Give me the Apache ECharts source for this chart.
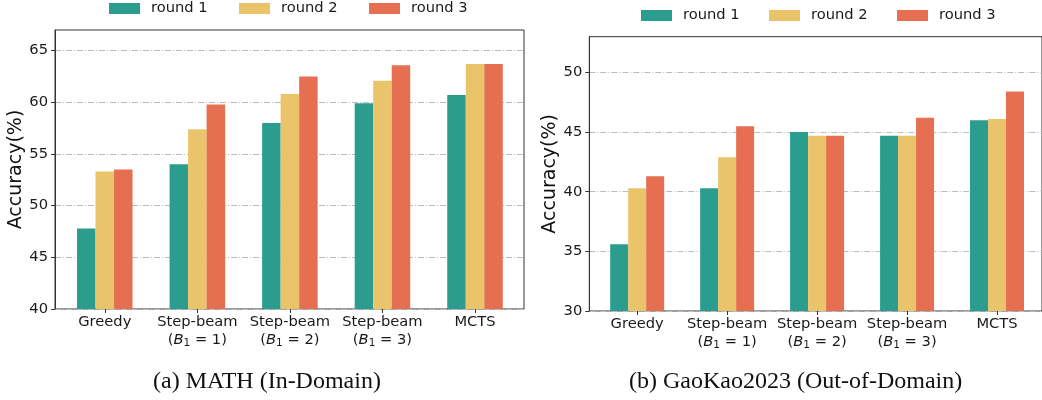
<!DOCTYPE html>
<html>
<head>
<meta charset="utf-8">
<script src="https://cdn.jsdelivr.net/npm/echarts@6/dist/echarts.min.js"></script>
<style>
  html, body { margin: 0; padding: 0; background: #fff; }
</style>
</head>
<body>
<div id="main" style="width: 1042px; height: 400px;"></div>
<script>
// categories (x axis)
var categories = ['Greedy', 'Step-beam (B1 = 1)', 'Step-beam (B1 = 2)', 'Step-beam (B1 = 3)', 'MCTS'];
var roundNames = ['round 1', 'round 2', 'round 3'];
var roundColors = ['#2a9d8f', '#e9c46a', '#e76f51'];

// (a) MATH (In-Domain)
var mathRound1 = [47.8, 54.0, 58.0, 59.9, 60.7];
var mathRound2 = [53.3, 57.4, 60.8, 62.1, 63.7];
var mathRound3 = [53.5, 59.8, 62.5, 63.6, 63.7];
var mathTicks = [40, 45, 50, 55, 60, 65];

// (b) GaoKao2023 (Out-of-Domain)
var gaokaoRound1 = [35.6, 40.3, 45.0, 44.7, 46.0];
var gaokaoRound2 = [40.3, 42.9, 44.7, 44.7, 46.1];
var gaokaoRound3 = [41.3, 45.5, 44.7, 46.2, 48.4];
var gaokaoTicks = [30, 35, 40, 45, 50];

var subTitles = ['(a) MATH (In-Domain)', '(b) GaoKao2023 (Out-of-Domain)'];

var FONT = 'DejaVu Sans';
var FS = 14.7;
var chart = echarts.init(document.getElementById('main'));

// category label -> rich text, "(B1 = 1)" with italic B and subscript 1
function catLabel(val) {
  var m = val.match(/^(.*) \(B1 = (\d)\)$/);
  if (!m) return '{n|' + val + '}';
  return '{n|' + m[1] + '}\n{p|(}{i|B}{s|1}{p| = ' + m[2] + ')}';
}

var richStyle = {
  n: { fontSize: FS, lineHeight: 18, fontFamily: FONT, color: '#1a1a1a' },
  p: { fontSize: FS, lineHeight: 18, fontFamily: FONT, color: '#1a1a1a' },
  i: { fontSize: FS, lineHeight: 18, fontFamily: FONT, fontStyle: 'italic', color: '#1a1a1a' },
  s: { fontSize: 10.5, lineHeight: 11, fontFamily: FONT, verticalAlign: 'bottom', color: '#1a1a1a' }
};

function frameY(min, max, ticks, gridIndex) {
  return {
    type: 'value', gridIndex: gridIndex, min: min, max: max, interval: 5,
    name: 'Accuracy(%)', nameLocation: 'middle', nameGap: 29,
    nameTextStyle: { fontFamily: FONT, fontSize: 19, color: '#111' },
    axisLine: { show: true, lineStyle: { color: '#333', width: 1 } },
    axisTick: { show: true, length: 4, lineStyle: { color: '#333' }, customValues: ticks },
    axisLabel: { margin: 7, fontFamily: FONT, fontSize: FS, color: '#1a1a1a', customValues: ticks },
    splitLine: { show: true, lineStyle: { color: '#bcbcbc', width: 1, type: [6, 2, 1, 2] } }
  };
}

function dataY(min, max, gridIndex) {
  return { type: 'value', gridIndex: gridIndex, min: min, max: max, show: false, splitLine: { show: false } };
}

function frameX(gridIndex) {
  return { type: 'value', gridIndex: gridIndex, min: 0, max: 1, show: false, splitLine: { show: false } };
}

function dataX(gridIndex) {
  return {
    type: 'category', gridIndex: gridIndex, data: categories,
    axisLine: { show: false },
    axisTick: { show: true, alignWithLabel: true, length: 4, lineStyle: { color: '#333' } },
    axisLabel: { margin: 4, interval: 0, formatter: catLabel, rich: richStyle, verticalAlign: 'top' },
    splitLine: { show: false }
  };
}

function bars(name, values, color, axisIndex) {
  return {
    name: name, type: 'bar', data: values,
    xAxisIndex: axisIndex, yAxisIndex: axisIndex,
    barWidth: '20%', barGap: '0%',
    itemStyle: { color: color },
    emphasis: { disabled: true },
    animation: false
  };
}

function legend(left, top, gap) {
  return {
    data: roundNames, left: left, top: top, padding: 0,
    itemWidth: 31, itemHeight: 11, itemGap: gap,
    icon: 'rect', selectedMode: false,
    textStyle: { fontFamily: FONT, fontSize: FS, color: '#1a1a1a', width: 57, padding: [0, 0, 0, 6], lineHeight: 15 }
  };
}

var titleStyle = { fontFamily: 'Liberation Serif', fontSize: 24, fontWeight: 'normal', color: '#111' };

var option = {
  animation: false,
  color: roundColors,
  title: [
    { text: subTitles[0], left: 153, top: 370, padding: 0, textStyle: titleStyle },
    { text: subTitles[1], left: 629, top: 370, padding: 0, textStyle: titleStyle }
  ],
  legend: [legend(109, 1, 31), legend(641, 8, 29)],
  grid: [
    // left frame / data
    { left: 55, right: 518, top: 30, bottom: 91, show: true, borderColor: '#333', borderWidth: 1, backgroundColor: 'transparent' },
    { left: 58.5, right: 520.7, top: 30, bottom: 91 },
    // right frame / data (runs past the right edge of the picture)
    { left: 589.3, right: -6.3, top: 36.7, bottom: 89, show: true, borderColor: '#333', borderWidth: 1, backgroundColor: 'transparent' },
    { left: 592.2, right: -3.3, top: 36.7, bottom: 89 }
  ],
  xAxis: [frameX(0), dataX(1), frameX(2), dataX(3)],
  yAxis: [frameY(40, 67, mathTicks, 0), dataY(40, 67, 1), frameY(30, 53, gaokaoTicks, 2), dataY(30, 53, 3)],
  series: [
    bars(roundNames[0], mathRound1, roundColors[0], 1),
    bars(roundNames[1], mathRound2, roundColors[1], 1),
    bars(roundNames[2], mathRound3, roundColors[2], 1),
    bars(roundNames[0], gaokaoRound1, roundColors[0], 3),
    bars(roundNames[1], gaokaoRound2, roundColors[1], 3),
    bars(roundNames[2], gaokaoRound3, roundColors[2], 3)
  ]
};

chart.setOption(option);
</script>
</body>
</html>
